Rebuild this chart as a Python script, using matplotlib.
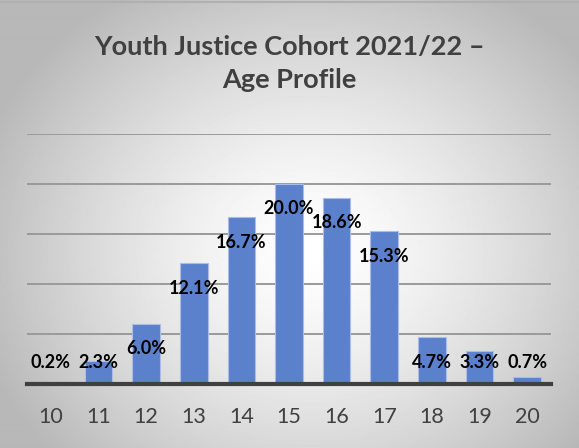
import numpy as np
import matplotlib
matplotlib.use("Agg")
import matplotlib.pyplot as plt

# 나이별 비율 (%)
ages = ['10', '11', '12', '13', '14', '15', '16', '17', '18', '19', '20']
share = [0.2, 2.3, 6.0, 12.1, 16.7, 20.0, 18.6, 15.3, 4.7, 3.3, 0.7]

title = 'Youth Justice Cohort 2021/22 –\nAge Profile'

plt.rcParams['font.family'] = ['Lato', 'DejaVu Sans']

fig = plt.figure(figsize=(5.79, 4.48), dpi=100)

# 배경 방사형 그라데이션
bg = fig.add_axes([0, 0, 1, 1], zorder=0)
yy, xx = np.mgrid[0:448, 0:579]
r = np.sqrt(((xx - 310) / 330.0) ** 2 + ((yy - 250) / 290.0) ** 2)
shade = np.clip(1.0 - 0.26 * r ** 1.4, 0.72, 1.0)
bg.imshow(shade, cmap='gray', vmin=0, vmax=1, aspect='auto',
          extent=[0, 1, 0, 1], interpolation='bilinear')
bg.axhline(0.996, color='#b0b0b0', linewidth=1.5)
bg.axis('off')

ax = fig.add_axes([27 / 579, 1 - 384 / 448, 524 / 579, 250 / 448], zorder=1)
ax.patch.set_alpha(0)

x = np.arange(len(ages))
ax.bar(x, share, width=0.58, color='#5b80cc', edgecolor='#a9bde6',
       linewidth=0.8, zorder=3)

# 데이터 라벨 (막대 안쪽 위, 짧은 막대는 최소 높이 유지)
for xi, v in zip(x, share):
    ax.text(xi, max(v - 2.5, 2.1), f'{v:.1f}%', ha='center', va='center',
            fontsize=13, fontweight='bold', color='black', zorder=4)

ax.set_xlim(-0.5, 10.5)
ax.set_ylim(0, 25)
ax.set_yticks([5, 10, 15, 20, 25])
ax.yaxis.grid(True, color='#9a9a9a', linewidth=1.4, zorder=1)
ax.set_axisbelow(True)
ax.tick_params(axis='y', left=False, labelleft=False)
ax.tick_params(axis='x', bottom=False, labelsize=15.5, labelcolor='#404040', pad=13)
ax.set_xticks(x)
ax.set_xticklabels(ages)
for s in ['top', 'right', 'left']:
    ax.spines[s].set_visible(False)
ax.spines['bottom'].set_color('#404040')
ax.spines['bottom'].set_linewidth(3)
ax.spines['bottom'].set_zorder(5)

fig.text(0.5, 1 - 64 / 448, title, ha='center', va='center', fontsize=19.5,
         fontweight='bold', color='#404040', linespacing=1.45)

fig.savefig('out.png', dpi=100)
